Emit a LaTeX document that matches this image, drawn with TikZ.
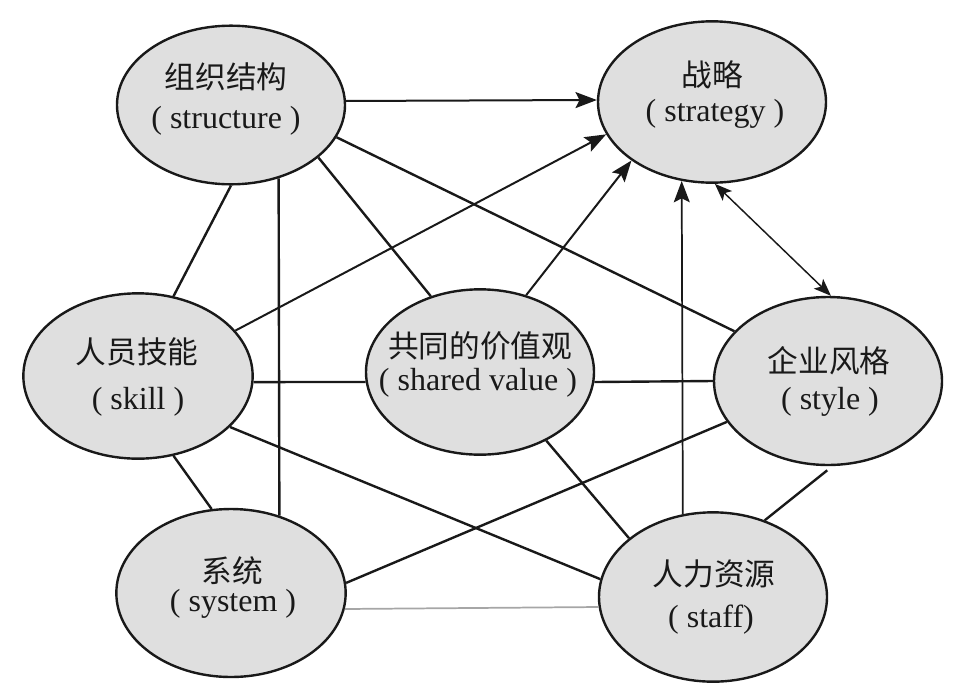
\documentclass[tikz,border=0pt]{standalone}
\usepackage{fontspec}
\setmainfont{Liberation Serif}
\newfontfamily\cjk{Noto Sans CJK SC}
\usetikzlibrary{shapes.geometric,arrows.meta}
\begin{document}
\begin{tikzpicture}[x=0.75pt,y=-0.75pt,
  ell/.style={ellipse, draw=black!90, line width=1.8pt, fill=gray!25, inner sep=0pt},
  cn/.style={inner sep=0pt, font=\cjk\fontsize{23}{27}\selectfont, text=black!90},
  en/.style={inner sep=0pt, font=\fontsize{24}{28}\selectfont, text=black!90},
  ln/.style={line width=1.8pt, draw=black!90},
  arr/.style={line width=1.5pt, draw=black!90, -{Stealth[length=16pt,width=12pt,inset=3pt]}},
  thinarr/.style={line width=1.1pt, draw=black!90, {Stealth[length=13pt,width=10pt,inset=3pt]}-{Stealth[length=13pt,width=10pt,inset=3pt]}},
  grayln/.style={line width=1.3pt, draw=black!35}
]
\useasboundingbox (0,0) rectangle (963,693);

% ellipses
\node[ell, minimum width=171pt, minimum height=119pt] (A) at (231,105) {};
\node[ell, minimum width=171pt, minimum height=121pt] (B) at (712,102) {};
\node[ell, minimum width=172pt, minimum height=124pt] (C) at (138,376) {};
\node[ell, minimum width=171pt, minimum height=124pt] (D) at (480,372) {};
\node[ell, minimum width=171pt, minimum height=126pt] (E) at (828,381) {};
\node[ell, minimum width=172pt, minimum height=126pt] (F) at (231,593) {};
\node[ell, minimum width=171pt, minimum height=127pt] (G) at (713,597) {};

% connectors
\draw[arr] (A.2.5) -- (B.179);
\draw[arr] (C.25) -- (B.197.7);
\draw[arr] (D.59.4) -- (B.216.2);
\draw[arr, line width=1.3pt] (G.110.8) -- (B.249);
\draw[thinarr] (B.272.8) -- (E.88.6);
\draw[ln] (A.343.8) -- (E.152.7);
\draw[ln] (A.329.5) -- (D.123.9);
\draw[ln] (A.270) -- (C.66.9);
\draw[ln] (A.303.1) -- (F.58.5);
\draw[ln] (C.357) -- (D.185);
\draw[ln] (D.355) -- (E.180.5);
\draw[ln] (C.331) -- (G.171.5);
\draw[ln] (C.294.2) -- (F.103.5);
\draw[ln] (E.202.3) -- (F.5.5);
\draw[ln] (D.314.1) -- (G.145.5);
\draw[ln, shorten <=5pt] (E.273) -- (G.56);
\draw[grayln] (F.352.6) -- (G.185.5);

% texts
\node[cn] (A1) at (226,77) {组织结构};
\node[en] (A2) at (226,121) {( structure )};
\node[cn] (B1) at (712,75) {战略};
\node[en] (B2) at (715,114) {( strategy )};
\node[cn] (C1) at (137,352) {人员技能};
\node[en] (C2) at (138,402) {( skill )};
\node[cn] (D1) at (480,346) {共同的价值观};
\node[en] (D2) at (478,383) {( shared value )};
\node[cn] (E1) at (829,361) {企业风格};
\node[en] (E2) at (830,402) {( style )};
\node[cn] (F1) at (232,571) {系统};
\node[en] (F2) at (233,604) {( system )};
\node[cn] (G1) at (714,574) {人力资源};
\node[en] (G2) at (711,620) {( staff)};
\end{tikzpicture}
\end{document}
